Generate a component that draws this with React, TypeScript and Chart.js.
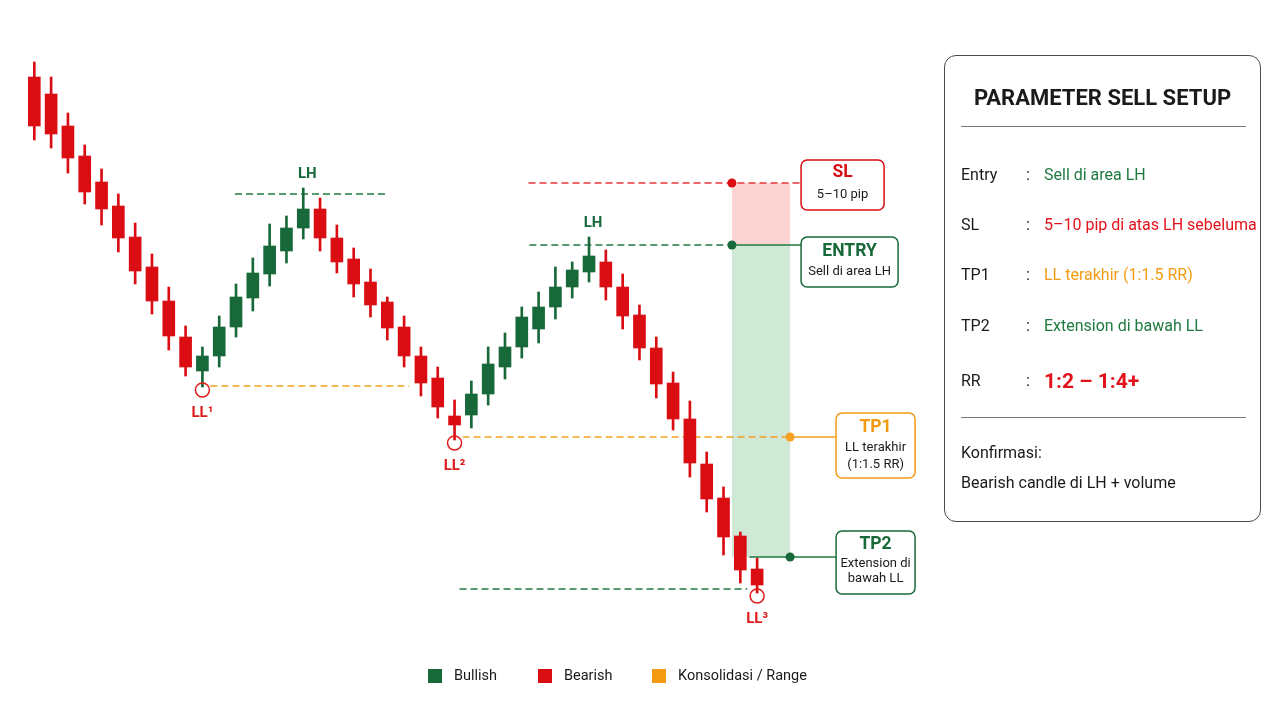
import React, { useEffect, useRef } from "react";
import { Chart, registerables } from "chart.js";

Chart.register(...registerables);

// ---- Data (price, 1 pip = 0.0001) ----
const candleOpen = [
  1.1423, 1.1406, 1.1374, 1.1344, 1.1318, 1.1294, 1.1263, 1.1233, 1.1199, 1.1163,
  1.1129, 1.1144, 1.1173, 1.1202, 1.1226, 1.1249, 1.1272, 1.1291, 1.1262, 1.1241,
  1.1218, 1.1198, 1.1173, 1.1144, 1.1122, 1.1084, 1.1085, 1.1106, 1.1133, 1.1153,
  1.1171, 1.1193, 1.1213, 1.1228, 1.1238, 1.1213, 1.1185, 1.1152, 1.1117, 1.1081,
  1.1036, 1.1002, 1.0964, 1.0931,
];
const candleHigh = [
  1.1438, 1.1423, 1.1387, 1.1355, 1.1331, 1.1306, 1.1277, 1.1246, 1.1213, 1.1174,
  1.1153, 1.1184, 1.1216, 1.1242, 1.1276, 1.1284, 1.1312, 1.1302, 1.1275, 1.1252,
  1.1231, 1.1203, 1.1184, 1.1153, 1.1133, 1.1100, 1.1119, 1.1153, 1.1167, 1.1193,
  1.1208, 1.1233, 1.1238, 1.1263, 1.1250, 1.1226, 1.1195, 1.1163, 1.1128, 1.1099,
  1.1048, 1.1013, 1.0968, 1.0942,
];
const candleLow = [
  1.1360, 1.1352, 1.1327, 1.1296, 1.1275, 1.1248, 1.1216, 1.1186, 1.1150, 1.1124,
  1.1113, 1.1133, 1.1163, 1.1189, 1.1214, 1.1237, 1.1261, 1.1249, 1.1227, 1.1203,
  1.1183, 1.1160, 1.1133, 1.1104, 1.1082, 1.1060, 1.1072, 1.1095, 1.1121, 1.1142,
  1.1157, 1.1181, 1.1202, 1.1218, 1.1200, 1.1171, 1.1140, 1.1102, 1.1070, 1.1023,
  1.0988, 1.0945, 1.0917, 1.0907,
];
const candleClose = [
  1.1374, 1.1366, 1.1342, 1.1308, 1.1291, 1.1262, 1.1229, 1.1199, 1.1164, 1.1133,
  1.1144, 1.1173, 1.1203, 1.1227, 1.1254, 1.1272, 1.1291, 1.1262, 1.1238, 1.1216,
  1.1195, 1.1172, 1.1144, 1.1117, 1.1093, 1.1075, 1.1106, 1.1136, 1.1153, 1.1183,
  1.1193, 1.1213, 1.1230, 1.1244, 1.1213, 1.1184, 1.1152, 1.1116, 1.1081, 1.1037,
  1.1001, 1.0963, 1.0930, 1.0915,
];

// Key levels
const levelSL = 1.1317;
const levelEntry = 1.1255;
const levelTP1 = 1.1063;
const levelTP2 = 1.0943;
const levelLH1 = 1.1306;
const levelLL1 = 1.1114;
const levelLL3 = 1.0911;

// Swing points (candle indices)
const swingLLIndex = [10, 25, 43];
const swingLLLabels = ["LL\u00B9", "LL\u00B2", "LL\u00B3"];
const swingLHIndex = [16, 33];
const swingLHLabels = ["LH", "LH"];

// Panel texts
const panelTitle = "PARAMETER SELL SETUP";
const panelLabels = ["Entry", "SL", "TP1", "TP2", "RR"];
const panelValues = [
  "Sell di area LH",
  "5\u201310 pip di atas LH sebeluma",
  "LL terakhir (1:1.5 RR)",
  "Extension di bawah LL",
  "1:2 \u2013 1:4+",
];
const confirmTitle = "Konfirmasi:";
const confirmText = "Bearish candle di LH + volume";

const legendLabels = ["Bullish", "Bearish", "Konsolidasi / Range"];

// ---- Styles ----
const GREEN = "#17693a";
const RED = "#d90d12";
const ORANGE = "#f5a11f";
const LINE_GREEN = "#1f7a3f";
const LINE_RED = "#e5393b";
const legendColors = [GREEN, RED, "#f39a12"];
const panelValueColors = ["#1f7a3f", "#e3121a", "#f39c12", "#1f7a3f", "#e3121a"];
const FONT = "Roboto, 'Noto Sans', sans-serif";

function App() {
  const canvasRef = useRef<HTMLCanvasElement | null>(null);

  useEffect(() => {
    const canvas = canvasRef.current;
    if (!canvas) return;
    const isBull = candleOpen.map((o, i) => candleClose[i] >= o);
    const colors = isBull.map((b) => (b ? GREEN : RED));

    const bodies = candleOpen.map((o, i) => ({ x: i, y: [o, candleClose[i]] }));
    const wicks = candleOpen.map((_, i) => ({ x: i, y: [candleLow[i], candleHigh[i]] }));

    const zoneStart = 41.5;
    const zoneEnd = 44.96;

    const overlay = {
      id: "overlay",
      beforeDatasetsDraw(chart: any) {
        const ctx = chart.ctx as CanvasRenderingContext2D;
        const xs = chart.scales.x;
        const ys = chart.scales.y;
        const X = (v: number) => xs.getPixelForValue(v);
        const Y = (v: number) => ys.getPixelForValue(v);
        ctx.save();
        // zones
        ctx.fillStyle = "rgba(252, 205, 205, 0.85)";
        ctx.fillRect(X(zoneStart), Y(levelSL), X(zoneEnd) - X(zoneStart), Y(levelEntry) - Y(levelSL));
        ctx.fillStyle = "rgba(205, 231, 212, 0.95)";
        ctx.fillRect(X(zoneStart), Y(levelEntry), X(zoneEnd) - X(zoneStart), Y(levelTP2) - Y(levelEntry));

        const dashed = (x1: number, x2: number, y: number, color: string) => {
          ctx.beginPath();
          ctx.setLineDash([7, 4]);
          ctx.lineWidth = 1.5;
          ctx.strokeStyle = color;
          ctx.moveTo(x1, y);
          ctx.lineTo(x2, y);
          ctx.stroke();
          ctx.setLineDash([]);
        };
        const lh1 = swingLHIndex[0];
        const ll1 = swingLLIndex[0];
        const ll2 = swingLLIndex[1];
        const lh2 = swingLHIndex[1];
        const ll3 = swingLLIndex[2];
        const boxLeftA = X(zoneEnd) + 11;
        dashed(X(lh1 - 4.06), X(lh1 + 4.98), Y(levelLH1), LINE_GREEN);
        dashed(X(ll1) + 8, X(ll1 + 12.3), Y(levelLL1), ORANGE);
        dashed(X(ll2) + 8, X(zoneEnd), Y(levelTP1), ORANGE);
        dashed(X(lh2 - 3.6), boxLeftA, Y(levelSL), LINE_RED);
        dashed(X(lh2 - 3.55), X(zoneStart), Y(levelEntry), LINE_GREEN);
        dashed(X(ll2) + 5, X(ll3) - 10, Y(levelLL3), LINE_GREEN);
        ctx.restore();
      },
      afterDatasetsDraw(chart: any) {
        const ctx = chart.ctx as CanvasRenderingContext2D;
        const xs = chart.scales.x;
        const ys = chart.scales.y;
        const X = (v: number) => xs.getPixelForValue(v);
        const Y = (v: number) => ys.getPixelForValue(v);
        ctx.save();
        const solid = (x1: number, x2: number, y: number, color: string) => {
          ctx.beginPath();
          ctx.lineWidth = 1.5;
          ctx.strokeStyle = color;
          ctx.moveTo(x1, y);
          ctx.lineTo(x2, y);
          ctx.stroke();
        };
        const dot = (x: number, y: number, color: string) => {
          ctx.beginPath();
          ctx.fillStyle = color;
          ctx.arc(x, y, 4.5, 0, Math.PI * 2);
          ctx.fill();
        };
        const zl = X(zoneStart);
        const zr = X(zoneEnd);
        const boxLeftA = zr + 11;
        const boxLeftB = zr + 46;

        solid(zl, boxLeftA, Y(levelEntry), LINE_GREEN);
        solid(zr, boxLeftB, Y(levelTP1), ORANGE);
        solid(X(swingLLIndex[2] - 1) + 9, boxLeftB, Y(levelTP2), LINE_GREEN);
        dot(zl, Y(levelSL), RED);
        dot(zl, Y(levelEntry), GREEN);
        dot(zr, Y(levelTP1), ORANGE);
        dot(zr, Y(levelTP2), GREEN);

        // swing lows circles + labels
        ctx.textAlign = "center";
        ctx.textBaseline = "middle";
        swingLLIndex.forEach((idx, k) => {
          const cx = X(idx);
          const cy = Y(candleLow[idx]) + 3;
          ctx.beginPath();
          ctx.lineWidth = 1.5;
          ctx.strokeStyle = "#e01b1b";
          ctx.arc(cx, cy, 7, 0, Math.PI * 2);
          ctx.stroke();
          ctx.fillStyle = "#e01b1b";
          ctx.font = `bold 15px ${FONT}`;
          ctx.fillText(swingLLLabels[k], cx, cy + 23);
        });
        swingLHIndex.forEach((idx, k) => {
          const cx = X(idx) + 4;
          const cy = Y(candleHigh[idx]) - 14;
          ctx.fillStyle = GREEN;
          ctx.font = `bold 15px ${FONT}`;
          ctx.fillText(swingLHLabels[k], cx, cy);
        });

        const box = (
          x: number,
          y: number,
          w: number,
          h: number,
          color: string,
          title: string,
          lines: string[],
          titleY: number,
          lineYs: number[]
        ) => {
          ctx.beginPath();
          ctx.lineWidth = 1.5;
          ctx.strokeStyle = color;
          ctx.fillStyle = "#ffffff";
          (ctx as any).roundRect(x, y, w, h, 6);
          ctx.fill();
          ctx.stroke();
          ctx.textAlign = "center";
          ctx.textBaseline = "middle";
          ctx.fillStyle = color;
          ctx.font = `bold 17.5px ${FONT}`;
          ctx.fillText(title, x + w / 2, y + titleY);
          ctx.fillStyle = "#1a1a1a";
          ctx.font = `13px ${FONT}`;
          lines.forEach((t, i) => ctx.fillText(t, x + w / 2, y + lineYs[i]));
        };
        const ySL = Y(levelSL);
        const yEn = Y(levelEntry);
        const yT1 = Y(levelTP1);
        const yT2 = Y(levelTP2);
        box(boxLeftA, ySL - 23, 83, 50, RED, "SL", ["5\u201310 pip"], 13, [35]);
        box(boxLeftA, yEn - 8, 97, 50, GREEN, "ENTRY", ["Sell di area LH"], 15, [35]);
        box(boxLeftB, yT1 - 24, 79, 65, "#f39a12", "TP1", ["LL terakhir", "(1:1.5 RR)"], 15, [35, 52]);
        box(boxLeftB, yT2 - 26, 79, 63, GREEN, "TP2", ["Extension di", "bawah LL"], 14, [33, 48]);
        ctx.restore();
      },
    };

    const pxStart = 34.3;
    const pxStep = 16.81;
    const xMin = -pxStart / pxStep;
    const xMax = xMin + 1280 / pxStep;

    const chart = new Chart(canvas, {
      type: "bar",
      data: {
        datasets: [
          {
            label: "body",
            data: bodies as any,
            backgroundColor: colors,
            borderWidth: 0,
            barThickness: 12,
            grouped: false,
          } as any,
          {
            label: "wick",
            data: wicks as any,
            backgroundColor: colors,
            borderWidth: 0,
            barThickness: 2,
            grouped: false,
          } as any,
        ],
      },
      options: {
        animation: false,
        responsive: false,
        maintainAspectRatio: false,
        layout: { padding: 0 },
        plugins: { legend: { display: false }, tooltip: { enabled: false } },
        scales: {
          x: { type: "linear", min: xMin, max: xMax, offset: false, display: false },
          y: { type: "linear", min: 1.078, max: 1.15, display: false },
        },
      },
      plugins: [overlay],
    });
    return () => chart.destroy();
  }, []);

  const rowCenters = [119, 169, 219, 270, 325];

  return (
    <div style={{ position: "fixed", left: 0, top: 0, width: 1280, height: 720, background: "#ffffff", fontFamily: FONT }}>
      <canvas ref={canvasRef} width={1280} height={720} style={{ position: "absolute", left: 0, top: 0, width: 1280, height: 720 }} />
      <div
        style={{
          position: "absolute",
          left: 944,
          top: 55,
          width: 315,
          height: 465,
          border: "1.5px solid #4a4a4a",
          borderRadius: 12,
          background: "#ffffff",
          color: "#1a1a1a",
        }}
      >
        <div style={{ position: "absolute", left: 0, width: 315, top: 28, height: 28, lineHeight: "28px", textAlign: "center", fontWeight: 700, fontSize: 22 }}>
          {panelTitle}
        </div>
        <div style={{ position: "absolute", left: 16, width: 285, top: 70, height: 0, borderTop: "1.5px solid #777" }} />
        {panelLabels.map((lab, i) => (
          <React.Fragment key={lab}>
            <div style={{ position: "absolute", left: 16, top: rowCenters[i] - 11, height: 22, lineHeight: "22px", fontSize: 16 }}>{lab}</div>
            <div style={{ position: "absolute", left: 81, top: rowCenters[i] - 11, height: 22, lineHeight: "22px", fontSize: 16 }}>:</div>
            <div
              style={{
                position: "absolute",
                left: 99,
                top: rowCenters[i] - 13,
                height: 26,
                lineHeight: "26px",
                fontSize: i === 4 ? 21 : 16,
                fontWeight: i === 4 ? 700 : 400,
                color: panelValueColors[i],
                whiteSpace: "nowrap",
              }}
            >
              {panelValues[i]}
            </div>
          </React.Fragment>
        ))}
        <div style={{ position: "absolute", left: 16, width: 285, top: 361, height: 0, borderTop: "1.5px solid #777" }} />
        <div style={{ position: "absolute", left: 16, top: 386, height: 22, lineHeight: "22px", fontSize: 16 }}>{confirmTitle}</div>
        <div style={{ position: "absolute", left: 16, top: 416, height: 22, lineHeight: "22px", fontSize: 16, whiteSpace: "nowrap" }}>{confirmText}</div>
      </div>
      {legendLabels.map((lab, i) => (
        <React.Fragment key={lab}>
          <div style={{ position: "absolute", left: [428, 538, 652][i], top: 669, width: 14, height: 14, background: legendColors[i] }} />
          <div style={{ position: "absolute", left: [454, 564, 678][i], top: 666, height: 20, lineHeight: "20px", fontSize: 14.5, color: "#1a1a1a", whiteSpace: "nowrap" }}>
            {lab}
          </div>
        </React.Fragment>
      ))}
    </div>
  );
}

export default App;
